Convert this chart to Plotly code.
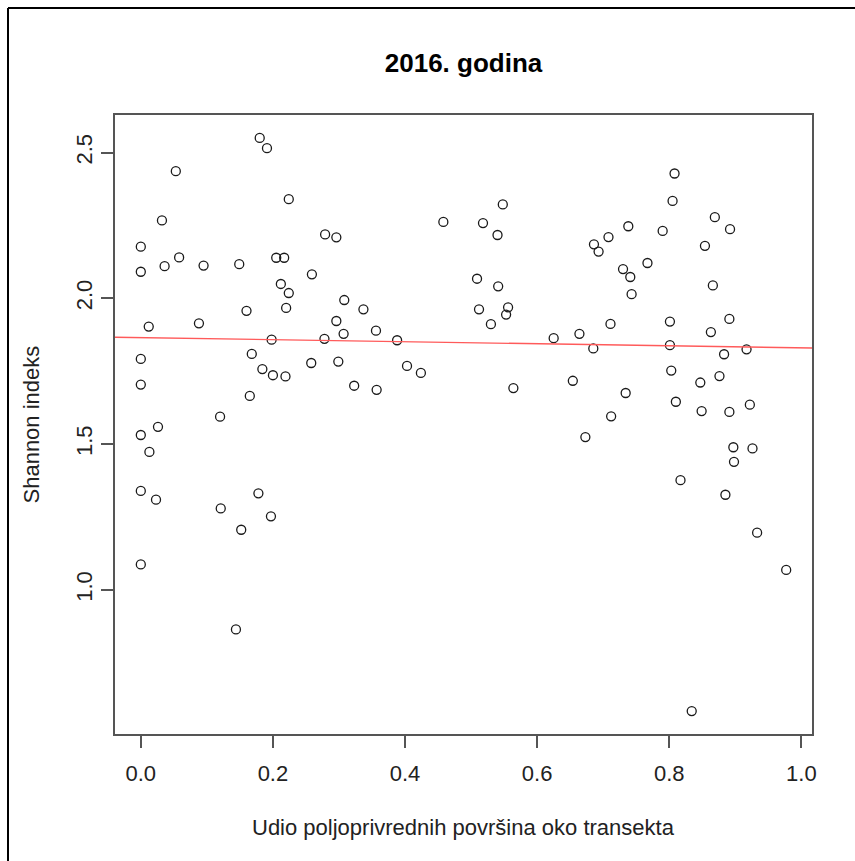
import numpy as np
import plotly.graph_objects as go

# Share of agricultural land around each transect and its Shannon diversity index (2016)
udio = [
    0.180, 0.191, 0.053, 0.224, 0.032, 0.279, 0.296, 0.000, 0.058, 0.205,
    0.217, 0.000, 0.036, 0.095, 0.149, 0.259, 0.212, 0.224, 0.308, 0.220,
    0.160, 0.296, 0.012, 0.088, 0.307, 0.198, 0.278, 0.000, 0.168, 0.258,
    0.299, 0.184, 0.200, 0.219, 0.000, 0.165, 0.120, 0.026, 0.000, 0.013,
    0.000, 0.023, 0.121, 0.178, 0.197, 0.152, 0.000, 0.144, 0.548, 0.458,
    0.518, 0.540, 0.509, 0.541, 0.337, 0.512, 0.556, 0.553, 0.530, 0.356,
    0.388, 0.625, 0.664, 0.403, 0.424, 0.323, 0.357, 0.564, 0.654, 0.673,
    0.808, 0.805, 0.869, 0.738, 0.892, 0.790, 0.708, 0.686, 0.693, 0.854,
    0.767, 0.730, 0.741, 0.743, 0.866, 0.711, 0.801, 0.891, 0.863, 0.801,
    0.685, 0.883, 0.917, 0.803, 0.876, 0.847, 0.734, 0.810, 0.849, 0.891,
    0.922, 0.712, 0.897, 0.926, 0.898, 0.817, 0.885, 0.933, 0.977, 0.834,
]
shannon = [
    2.550, 2.515, 2.436, 2.340, 2.267, 2.219, 2.209, 2.177, 2.140, 2.139,
    2.139, 2.091, 2.110, 2.112, 2.117, 2.082, 2.049, 2.018, 1.994, 1.967,
    1.957, 1.922, 1.903, 1.914, 1.878, 1.858, 1.861, 1.792, 1.809, 1.778,
    1.783, 1.757, 1.736, 1.732, 1.704, 1.665, 1.594, 1.559, 1.531, 1.473,
    1.339, 1.309, 1.279, 1.331, 1.252, 1.206, 1.087, 0.864, 2.322, 2.262,
    2.258, 2.217, 2.067, 2.041, 1.962, 1.962, 1.969, 1.944, 1.911, 1.889,
    1.856, 1.863, 1.878, 1.768, 1.744, 1.700, 1.686, 1.692, 1.717, 1.524,
    2.428, 2.334, 2.278, 2.247, 2.237, 2.231, 2.210, 2.185, 2.160, 2.180,
    2.121, 2.100, 2.073, 2.014, 2.044, 1.912, 1.920, 1.929, 1.884, 1.839,
    1.828, 1.808, 1.825, 1.752, 1.733, 1.711, 1.675, 1.645, 1.613, 1.610,
    1.635, 1.595, 1.489, 1.485, 1.439, 1.376, 1.326, 1.196, 1.068, 0.584,
]

# Linear trend (abline of the fitted model)
trend_intercept = 1.865
trend_slope = -0.035

x_ticks = [0.0, 0.2, 0.4, 0.6, 0.8, 1.0]
y_ticks = [1.0, 1.5, 2.0, 2.5]

title_text = "2016. godina"
x_title = "Udio poljoprivrednih površina oko transekta"
y_title = "Shannon indeks"

FONT = "Liberation Sans, Arial, Helvetica, sans-serif"
BASE = 22

# R-style axis ranges: data range padded by 4% on each side
def padded(vals):
    lo, hi = min(vals), max(vals)
    d = (hi - lo) * 0.04
    return [lo - d, hi + d]

xr = padded(udio)
yr = padded(shannon)

fig = go.Figure()

fig.add_trace(go.Scatter(
    x=udio, y=shannon, mode="markers",
    marker=dict(symbol="circle-open", size=9, color="#1a1a1a",
                line=dict(width=1.3, color="#1a1a1a")),
    showlegend=False, hoverinfo="x+y",
))

line_x = np.array(xr)
fig.add_trace(go.Scatter(
    x=line_x, y=trend_intercept + trend_slope * line_x, mode="lines",
    line=dict(color="#ff5a5a", width=1.4),
    showlegend=False, hoverinfo="skip",
))

axis_common = dict(
    showgrid=False, zeroline=False, showline=True, mirror=True,
    linecolor="#555", linewidth=1.5, ticks="outside", ticklen=12,
    tickwidth=1.5, tickcolor="#555",
    tickfont=dict(size=BASE, color="#222"),
)

fig.update_layout(
    width=855, height=861,
    margin=dict(l=115, r=43, t=115, b=127),
    paper_bgcolor="white", plot_bgcolor="white",
    font=dict(family=FONT, size=BASE, color="#222"),
    title=dict(text=f"<b>{title_text}</b>", x=0.5, xref="paper",
               y=1 - 63 / 861, yanchor="middle",
               font=dict(family=FONT, size=26, color="#000")),
    xaxis=dict(range=xr, tickvals=x_ticks, ticktext=[f"{v:.1f}" for v in x_ticks],
               ticklabelstandoff=7, **axis_common),
    yaxis=dict(range=yr, tickvals=y_ticks, ticktext=[f"{v:.1f}" for v in y_ticks],
               tickangle=-90, ticklabelstandoff=0, **axis_common),
    annotations=[
        dict(text=x_title, xref="paper", yref="paper", x=0.5, y=(734 - 827) / 619,
             showarrow=False, xanchor="center", yanchor="middle",
             font=dict(size=BASE, color="#222")),
        dict(text=y_title, xref="paper", yref="paper", x=(31 - 115) / 697, y=0.5,
             showarrow=False, xanchor="center", yanchor="middle", textangle=-90,
             font=dict(size=BASE, color="#222")),
    ],
    shapes=[
        # outer frame (left and top edges)
        dict(type="line", xref="paper", yref="paper",
             x0=(8 - 115) / 697, x1=(8 - 115) / 697, y0=(734 - 8) / 619, y1=(734 - 870) / 619,
             line=dict(color="black", width=2)),
        dict(type="line", xref="paper", yref="paper",
             x0=(8 - 115) / 697, x1=(870 - 115) / 697, y0=(734 - 8) / 619, y1=(734 - 8) / 619,
             line=dict(color="black", width=2)),
    ],
)

fig.write_html("out.html")
